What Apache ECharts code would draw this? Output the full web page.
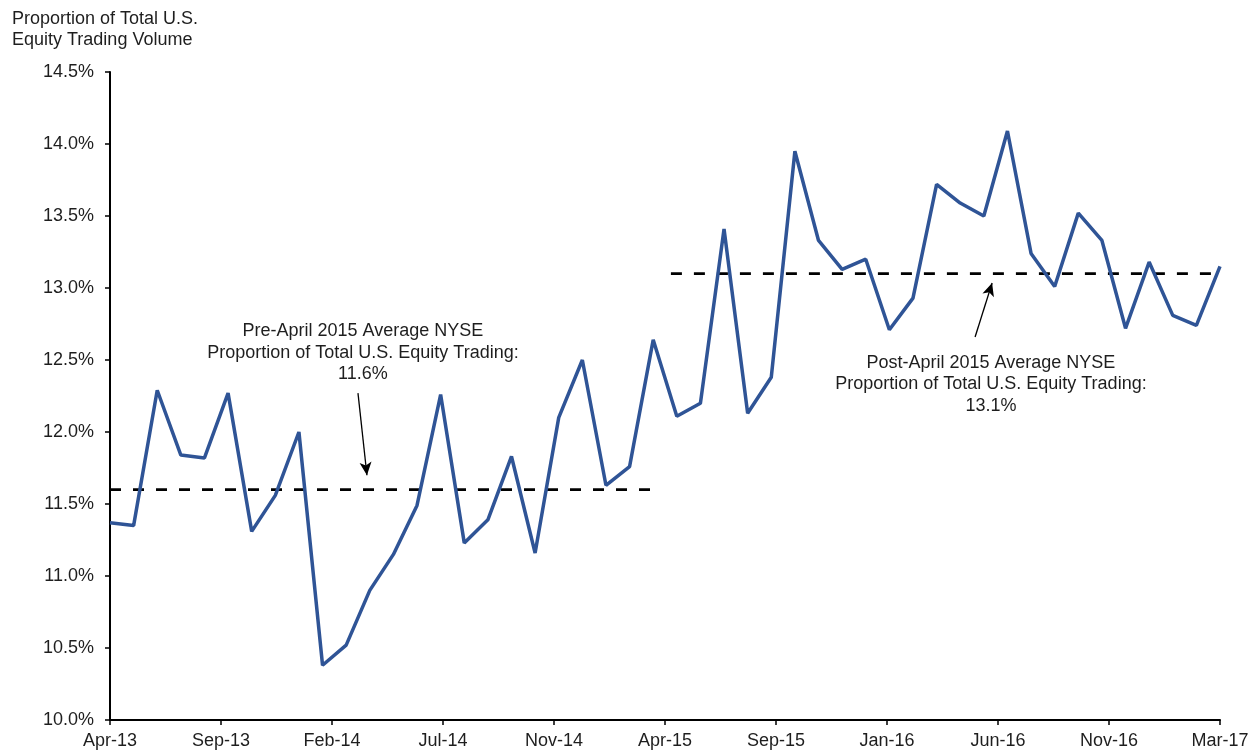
<!DOCTYPE html>
<html>
<head>
<meta charset="utf-8">
<script src="https://cdn.jsdelivr.net/npm/echarts@6/dist/echarts.min.js"></script>
<style>
html,body{margin:0;padding:0;background:#fff;}
#chart{width:1256px;height:754px;}
</style>
</head>
<body>
<div id="chart"></div>
<script>
// Monthly NYSE share, Apr-13 .. Mar-17 (48 months)
const months = ['Apr-13','May-13','Jun-13','Jul-13','Aug-13','Sep-13','Oct-13','Nov-13','Dec-13','Jan-14','Feb-14','Mar-14',
  'Apr-14','May-14','Jun-14','Jul-14','Aug-14','Sep-14','Oct-14','Nov-14','Dec-14','Jan-15','Feb-15','Mar-15',
  'Apr-15','May-15','Jun-15','Jul-15','Aug-15','Sep-15','Oct-15','Nov-15','Dec-15','Jan-16','Feb-16','Mar-16',
  'Apr-16','May-16','Jun-16','Jul-16','Aug-16','Sep-16','Oct-16','Nov-16','Dec-16','Jan-17','Feb-17','Mar-17'];
const share = [11.37,11.35,12.29,11.84,11.82,12.27,11.31,11.56,12.00,10.38,10.52,10.90,
  11.15,11.49,12.26,11.23,11.39,11.83,11.16,12.10,12.50,11.63,11.76,12.64,
  12.11,12.20,13.41,12.13,12.38,13.95,13.33,13.13,13.20,12.71,12.93,13.72,
  13.59,13.50,14.09,13.24,13.01,13.52,13.33,12.72,13.18,12.81,12.74,13.15];
const xTickLabels = ['Apr-13','Sep-13','Feb-14','Jul-14','Nov-14','Apr-15','Sep-15','Jan-16','Jun-16','Nov-16','Mar-17'];
const xTickStep = 4.7;
const preAvg = 11.6, preSpan = [0, 23.3];
const postAvg = 13.1, postSpan = [23.75, 47.2];
const preLabel = ['Pre-April 2015 Average NYSE','Proportion of Total U.S. Equity Trading:','11.6%'];
const postLabel = ['Post-April 2015 Average NYSE','Proportion of Total U.S. Equity Trading:','13.1%'];
const preArrow = [[10.5, 12.27],[10.88, 11.70]];
const postArrow = [[36.63, 12.66],[37.35, 13.035]];

const FONT = '"Liberation Sans", Arial, sans-serif';
const chart = echarts.init(document.getElementById('chart'));
const arrowStyle = {color:'#000', width:1.3, type:'solid'};

chart.setOption({
  animation:false,
  backgroundColor:'#fff',
  textStyle:{fontFamily:FONT},
  title:{
    text:'Proportion of Total U.S.\nEquity Trading Volume',
    left:7, top:4,
    textStyle:{fontFamily:FONT, fontSize:18, fontWeight:'normal', color:'#1e1e1e', lineHeight:21}
  },
  grid:{left:110, right:36, top:72, bottom:34, containLabel:false},
  xAxis:{
    type:'value', min:0, max:47, interval:xTickStep,
    axisLine:{show:true, onZero:false, lineStyle:{color:'#000', width:2}},
    axisTick:{show:true, length:5, lineStyle:{color:'#000', width:1.5}},
    axisLabel:{
      fontFamily:FONT, fontSize:18, color:'#1e1e1e', margin:12,
      showMinLabel:true, showMaxLabel:true,
      formatter:(v)=> xTickLabels[Math.round(v / xTickStep)] || ''
    },
    splitLine:{show:false}
  },
  yAxis:{
    type:'value', min:10, max:14.5, interval:0.5,
    axisLine:{show:true, onZero:false, lineStyle:{color:'#000', width:2}},
    axisTick:{show:true, length:5, lineStyle:{color:'#000', width:1.5}},
    axisLabel:{fontFamily:FONT, fontSize:18, color:'#1e1e1e', margin:16,
      formatter:(v)=> v.toFixed(1) + '%'},
    splitLine:{show:false}
  },
  series:[
    {
      type:'line', name:'pre', data:[[preSpan[0],preAvg],[preSpan[1],preAvg]],
      symbol:'none', clip:false, silent:true,
      lineStyle:{color:'#000', width:2.6, type:[11,12]}
    },
    {
      type:'line', name:'post', data:[[postSpan[0],postAvg],[postSpan[1],postAvg]],
      symbol:'none', clip:false, silent:true,
      lineStyle:{color:'#000', width:2.6, type:[11,12]}
    },
    {
      type:'line', name:'NYSE share',
      data: share.map((v,i)=>[i, v]),
      symbol:'none', clip:false,
      lineStyle:{color:'#2F5496', width:3.5},
      markLine:{
        silent:true, symbol:['none','arrow'], symbolSize:[9,13],
        label:{show:false},
        lineStyle:arrowStyle,
        data:[
          [{coord:preArrow[0]},{coord:preArrow[1]}],
          [{coord:postArrow[0]},{coord:postArrow[1]}]
        ]
      }
    }
  ]
});

function place(lines, anchor){
  const p = chart.convertToPixel({gridIndex:0}, anchor);
  return {
    type:'text', x:p[0], y:p[1],
    style:{
      text:lines.join('\n'), fontFamily:FONT, fontSize:18, fill:'#1e1e1e',
      align:'center', verticalAlign:'middle', lineHeight:21.5
    },
    silent:true
  };
}
// anchors in data space (month index, percent) for annotation centres
chart.setOption({
  graphic:[
    place(preLabel, [10.71, 12.55]),
    place(postLabel, [37.3, 12.33])
  ]
});
</script>
</body>
</html>
